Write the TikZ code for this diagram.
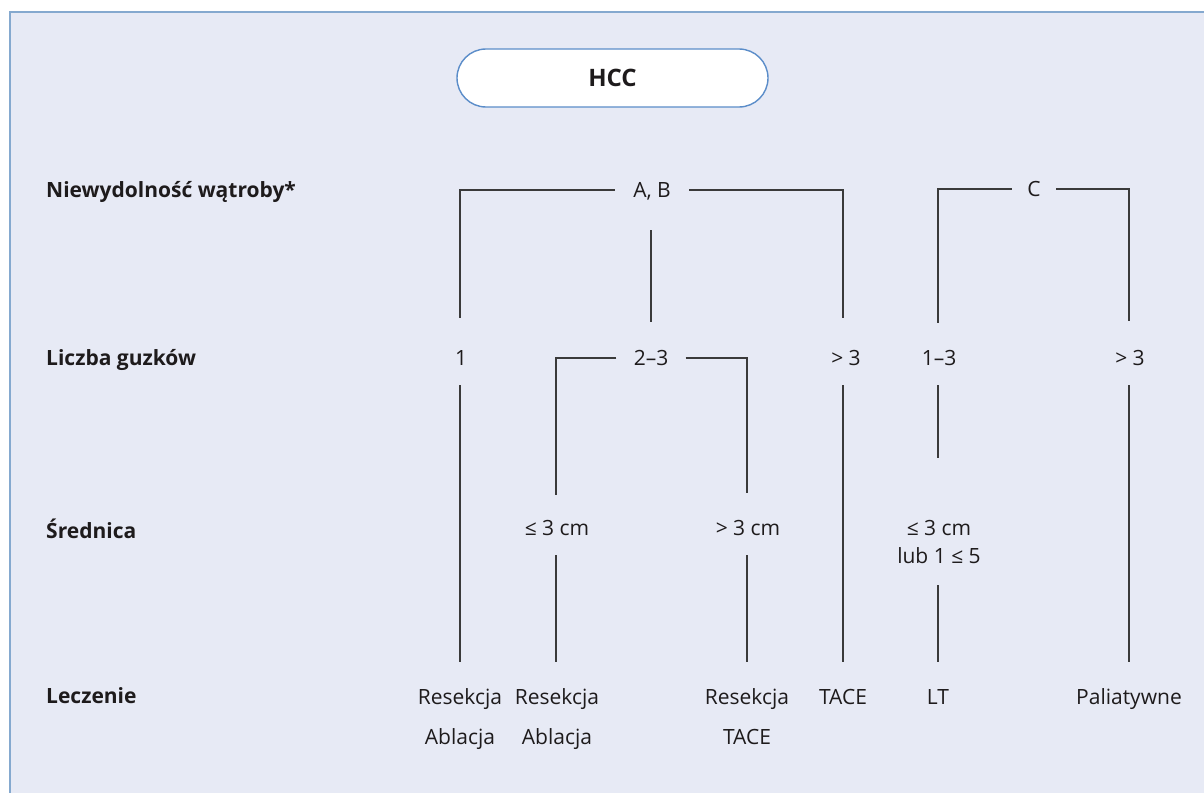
\documentclass[tikz,border=0pt]{standalone}
\usepackage{fontspec}
\setmainfont{Open Sans}
\definecolor{bgc}{HTML}{E7EAF5}
\definecolor{framec}{HTML}{85A9CF}
\definecolor{boxc}{HTML}{5B8DC9}
\definecolor{txtc}{HTML}{1E1B1C}
\definecolor{linec}{HTML}{3A3A3A}
\tikzset{
  lbl/.style={inner sep=0pt, text height=15pt, text depth=0pt, font=\fontsize{21}{24}\selectfont, text=txtc},
  head/.style={lbl, anchor=west, font=\bfseries\fontsize{21}{24}\selectfont},
  conn/.style={draw=linec, line width=1.4pt},
}
\begin{document}
\begin{tikzpicture}[x=1pt,y=-1pt]
\useasboundingbox (0,0) rectangle (1204,792);
\fill[bgc] (10,12) rectangle (1220,810);
\draw[framec, line width=2.5pt] (10,810) -- (10,12) -- (1220,12);
% title
\node[draw=boxc, line width=1.4pt, fill=white, rounded corners=29pt, minimum width=311pt, minimum height=58pt, inner sep=0pt,
      font=\bfseries\fontsize{24}{27}\selectfont, text=txtc] (hcc) at (612.5,78) {HCC};
% row headings
\node[head] (h1) at (46,190) {Niewydolność wątroby*};
\node[head] (h2) at (46,358) {Liczba guzków};
\node[head] (h3) at (46,531) {Średnica};
\node[head] (h4) at (46,696) {Leczenie};
% level 1
\node[lbl, minimum width=74pt] (ab) at (652,190) {A, B};
\node[lbl, minimum width=44pt] (c) at (1034,189) {C};
% level 2
\node[lbl] (n1) at (461,358) {1};
\node[lbl, minimum width=69pt] (n23) at (651,358) {2–3};
\node[lbl] (n3) at (846,358) {> 3};
\node[lbl] (m1) at (939,358) {1–3};
\node[lbl] (m2) at (1130,358) {> 3};
% level 3
\node[lbl] (s1) at (557,528) {≤ 3 cm};
\node[lbl] (s2) at (748,528) {> 3 cm};
\node[lbl] (s3) at (939,528) {≤ 3 cm};
\node[lbl] (s3b) at (939,556) {lub 1 ≤ 5};
% level 4
\node[lbl] (r1) at (460,697) {Resekcja};
\node[lbl] (a1) at (460,737) {Ablacja};
\node[lbl] (r2) at (557,697) {Resekcja};
\node[lbl] (a2) at (557,737) {Ablacja};
\node[lbl] (r3) at (747,697) {Resekcja};
\node[lbl] (t3) at (747,737) {TACE};
\node[lbl] (tace) at (843,697) {TACE};
\node[lbl] (lt) at (938,697) {LT};
\node[lbl] (pal) at (1129,697) {Paliatywne};
% connectors
\draw[conn] (ab.west) -| ([xshift=-1pt,yshift=40pt]n1.center);
\draw[conn] (ab.east) -| ([xshift=-3pt,yshift=40pt]n3.center);
\draw[conn] ([xshift=-1pt,yshift=-40pt]ab.center) -- ([yshift=36pt]n23.center);
\draw[conn] ([xshift=-1pt,yshift=-27pt]n1.center) -- ([yshift=35pt]r1.center);
\draw[conn] ([xshift=-3pt,yshift=-27pt]n3.center) -- ([yshift=35pt]tace.center);
\draw[conn] (n23.west) -| ([xshift=-1pt,yshift=33pt]s1.center);
\draw[conn] (n23.east) -| ([xshift=-1pt,yshift=35pt]s2.center);
\draw[conn] ([xshift=-1pt,yshift=-27pt]s1.center) -- ([xshift=-1pt,yshift=35pt]r2.center);
\draw[conn] ([xshift=-1pt,yshift=-27pt]s2.center) -- ([yshift=35pt]r3.center);
\draw[conn] (c.west) -| ([xshift=-1pt,yshift=35pt]m1.center);
\draw[conn] (c.east) -| ([xshift=-1pt,yshift=37pt]m2.center);
\draw[conn] ([xshift=-1pt,yshift=-27pt]m1.center) -- ([xshift=-1pt,yshift=70pt]s3.center);
\draw[conn] ([xshift=-1pt,yshift=-29pt]s3b.center) -- ([yshift=35pt]lt.center);
\draw[conn] ([xshift=-1pt,yshift=-27pt]m2.center) -- ([yshift=35pt]pal.center);
\end{tikzpicture}
\end{document}
